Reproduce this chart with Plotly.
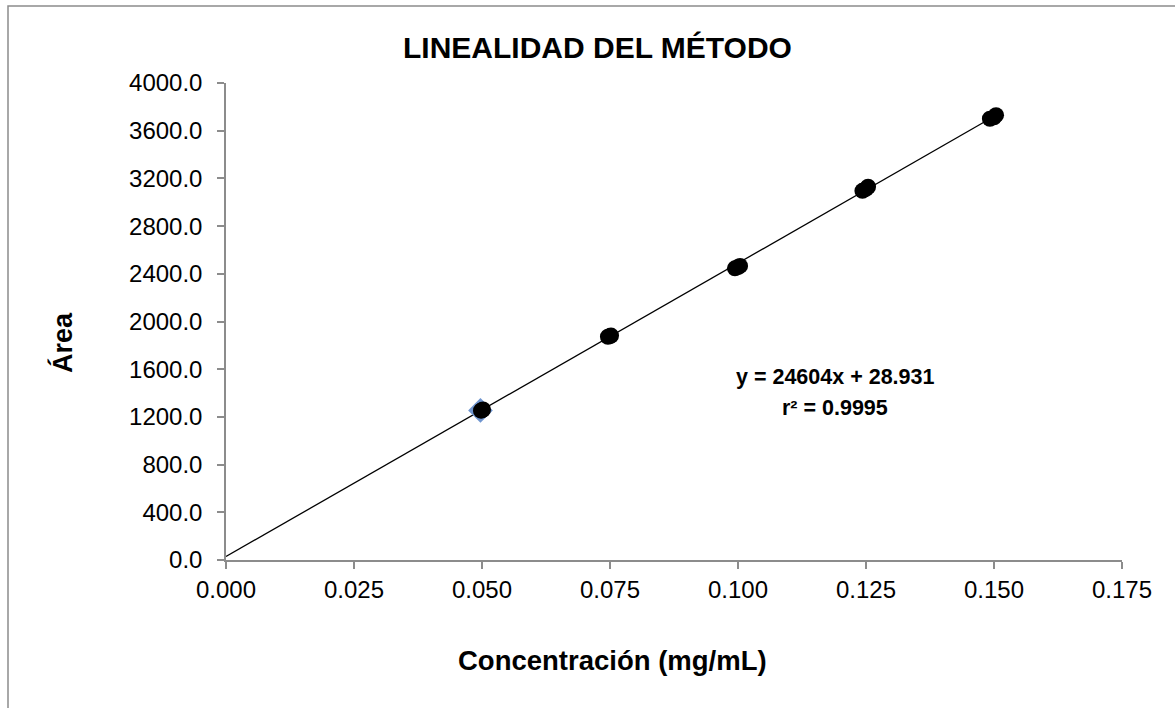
import plotly.graph_objects as go

# Data
conc = [0.0498, 0.0500, 0.0502,
        0.0746, 0.0750, 0.0752,
        0.0994, 0.1000, 0.1004,
        0.1243, 0.1250, 0.1254,
        0.1492, 0.1500, 0.1504]
area = [1252, 1256, 1262,
        1872, 1878, 1882,
        2446, 2456, 2466,
        3096, 3112, 3130,
        3700, 3712, 3730]
diamond_x = [0.0497]
diamond_y = [1254]
slope = 24604
intercept = 28.931
fit_x = [0.0, 0.1504]
x_ticks = [0.000, 0.025, 0.050, 0.075, 0.100, 0.125, 0.150, 0.175]
y_ticks = [0, 400, 800, 1200, 1600, 2000, 2400, 2800, 3200, 3600, 4000]

FONT = "Liberation Sans, Arial, sans-serif"

fig = go.Figure()
fig.add_trace(go.Scatter(x=fit_x, y=[slope * v + intercept for v in fit_x], mode="lines",
                         line=dict(color="black", width=1.3), showlegend=False, hoverinfo="skip"))
fig.add_trace(go.Scatter(x=diamond_x, y=diamond_y, mode="markers",
                         marker=dict(symbol="diamond", size=19, color="#6f95cf",
                                     line=dict(width=0)), showlegend=False))
fig.add_trace(go.Scatter(x=conc, y=area, mode="markers",
                         marker=dict(symbol="circle", size=16, color="black",
                                     line=dict(width=0)), showlegend=False))

L, R, T, B = 226, 53, 83, 148
W, H = 1175, 708
pw, ph = W - L - R, H - T - B

def px(x):
    return (x - L) / pw

def py(y):
    return (H - B - y) / ph

ann = [
    dict(text="<b>LINEALIDAD DEL MÉTODO</b>", x=px(597), y=py(47), font=dict(size=30)),
    dict(text="<b>Área</b>", x=px(62), y=py(343), textangle=-90, font=dict(size=27)),
    dict(text="<b>Concentración (mg/mL)</b>", x=px(612), y=py(660), font=dict(size=27.5)),
    dict(text="<b>y = 24604x + 28.931</b>", x=px(835), y=py(377), font=dict(size=21.5)),
    dict(text="<b>r² = 0.9995</b>", x=px(835), y=py(408), font=dict(size=21.5)),
]
for a in ann:
    a.update(xref="paper", yref="paper", showarrow=False, xanchor="center", yanchor="middle")
    a["font"].update(family=FONT, color="black")

axis_common = dict(showgrid=False, zeroline=False, showline=True, linecolor="#8c8c8c",
                   linewidth=1.5, ticks="outside", ticklen=7, tickcolor="#8c8c8c", tickwidth=1.5,
                   tickfont=dict(family=FONT, size=24, color="black"))

fig.update_layout(
    width=W, height=H,
    margin=dict(l=L, r=R, t=T, b=B),
    paper_bgcolor="white", plot_bgcolor="white",
    font=dict(family=FONT, color="black"),
    xaxis=dict(range=[0, 0.175], tickvals=x_ticks, tickformat=".3f", **axis_common),
    yaxis=dict(range=[0, 4000], tickvals=y_ticks, tickformat=".1f", ticklabelstandoff=10,
               **axis_common),
    annotations=ann,
    shapes=[dict(type="rect", xref="paper", yref="paper",
                 x0=px(8), x1=px(1200), y0=py(730), y1=py(6),
                 line=dict(color="#8c8c8c", width=1.5), fillcolor="rgba(0,0,0,0)", layer="below")],
)

fig.write_html("out.html")
